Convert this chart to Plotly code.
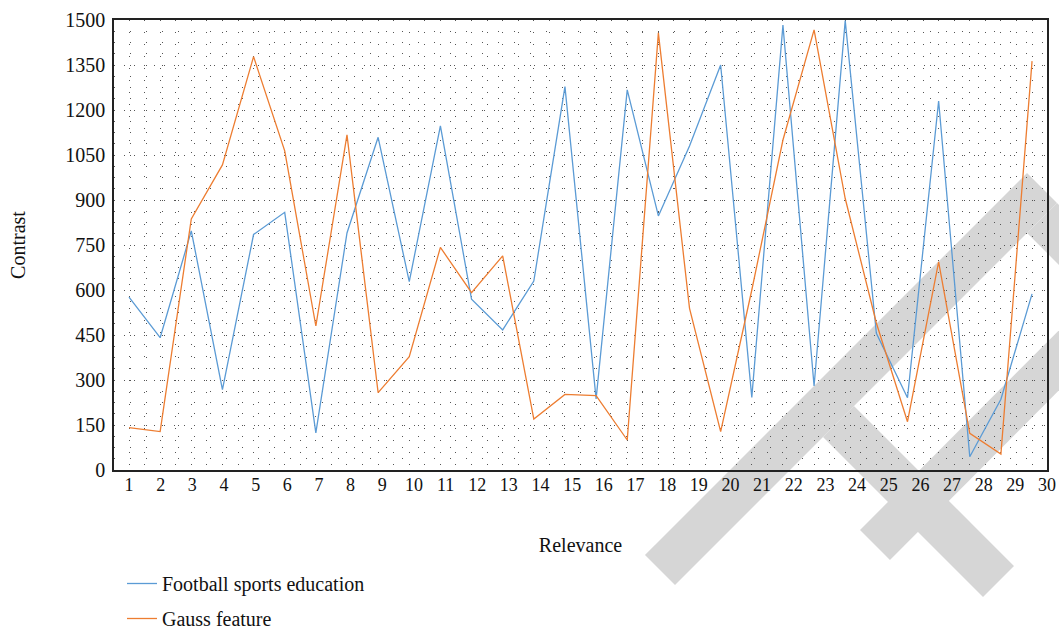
import plotly.graph_objects as go

# ---- data ----
relevance = [1, 2, 3, 4, 5, 6, 7, 8, 9, 10, 11, 12, 13, 14, 15,
             16, 17, 18, 19, 20, 21, 22, 23, 24, 25, 26, 27, 28, 29, 30]
football = [576, 441, 797, 268, 785, 859, 124, 790, 1109, 628,
            1147, 569, 467, 630, 1278, 237, 1267, 847, 1080, 1350,
            242, 1483, 280, 1498, 456, 241, 1230, 44, 236, 587]
gauss = [141, 128, 837, 1017, 1378, 1064, 480, 1117, 258, 378,
         742, 591, 714, 170, 252, 248, 100, 1457, 539, 128,
         600, 1100, 1467, 905, 490, 161, 694, 122, 53, 1363]
x_tick_labels = [str(k) for k in range(1, 31)]
y_ticks = [0, 150, 300, 450, 600, 750, 900, 1050, 1200, 1350, 1500]

FONT = "Liberation Serif"
BLUE = "#5b9bd5"
ORANGE = "#ed7d31"
W, H = 1059, 629
ML, MR, MT, MB = 114, 12, 20, 159
PW, PH = W - ML - MR, H - MT - MB

fig = go.Figure()
fig.add_trace(go.Scatter(x=relevance, y=football, mode="lines",
                         name="Football sports education",
                         line=dict(color=BLUE, width=1.3),
                         legendgroup="a"))
fig.add_trace(go.Scatter(x=relevance, y=gauss, mode="lines",
                         name="Gauss feature",
                         line=dict(color=ORANGE, width=1.3),
                         legendgroup="b"))

# tick labels are spread slightly wider than the data points in the reference
x_lo, x_hi = 0.518, 30.48
tick_span = x_hi - 1.0
tickvals = [1 + i * tick_span / 29 for i in range(30)]


# light grey watermark pieces (decoration of the source image)
def pp(px, py):
    return (px - ML) / PW, (MT + PH - py) / PH


def band(points):
    pts = [pp(*p) for p in points]
    d = "M " + " L ".join(f"{x:.4f},{y:.4f}" for x, y in pts) + " Z"
    return dict(type="path", path=d, xref="paper", yref="paper",
                fillcolor="#d6d6d6", line=dict(width=0), layer="below")


shapes = [
    # long "/" stroke
    band([(1027, 173), (1057, 203), (675, 585), (645, 555)]),
    # upper "\" arm
    band([(1027, 233), (1057, 203), (1227, 373), (1197, 403)]),
    # lower "\" arm
    band([(823, 437), (854, 406), (1014, 566), (983, 597)]),
    # second "/" stroke at the right edge
    band([(1092, 297), (1122, 327), (890, 560), (860, 530)]),
]

fig.update_layout(
    width=W, height=H,
    margin=dict(l=ML, r=MR, t=MT, b=MB, autoexpand=False),
    paper_bgcolor="white", plot_bgcolor="rgba(0,0,0,0)",
    font=dict(family=FONT, size=20, color="#111111"),
    showlegend=True,
    shapes=shapes,
    legend=dict(x=8 / PW, y=1 - 564 / H, xref="paper", yref="container",
                xanchor="left", yanchor="top",
                orientation="v", traceorder="grouped", tracegroupgap=6,
                font=dict(family=FONT, size=20, color="#111111"),
                bgcolor="rgba(0,0,0,0)"),
    xaxis=dict(range=[x_lo, x_hi], tickmode="array", tickvals=tickvals,
               ticktext=x_tick_labels, showgrid=False, zeroline=False,
               automargin=False,
               showline=True, linecolor="#222222", linewidth=1.5, mirror=True,
               ticks="", ticklabelstandoff=-2,
               tickfont=dict(family=FONT, size=18),
               title=dict(text="Relevance", standoff=44,
                          font=dict(family=FONT, size=20)),
               minor=dict(dtick=0.5, tick0=0.5, showgrid=True,
                          gridcolor="#555555", gridwidth=1, griddash="1px,11px")),
    yaxis=dict(range=[0, 1500], tickmode="array", tickvals=y_ticks,
               showgrid=True, gridcolor="#555555", gridwidth=1,
               griddash="1px,9px", zeroline=False, automargin=False,
               showline=True, linecolor="#222222", linewidth=1.5, mirror=True,
               ticks="", ticklabelstandoff=3,
               tickfont=dict(family=FONT, size=20),
               title=dict(text="Contrast", standoff=34,
                          font=dict(family=FONT, size=20)),
               minor=dict(dtick=37.5, tick0=0, showgrid=True,
                          gridcolor="#555555", gridwidth=1, griddash="1px,15px")),
)

fig.write_html("out.html",
               config={"displayModeBar": False},
               post_script="document.body.style.margin='0';"
                           "document.body.style.overflow='hidden';")
